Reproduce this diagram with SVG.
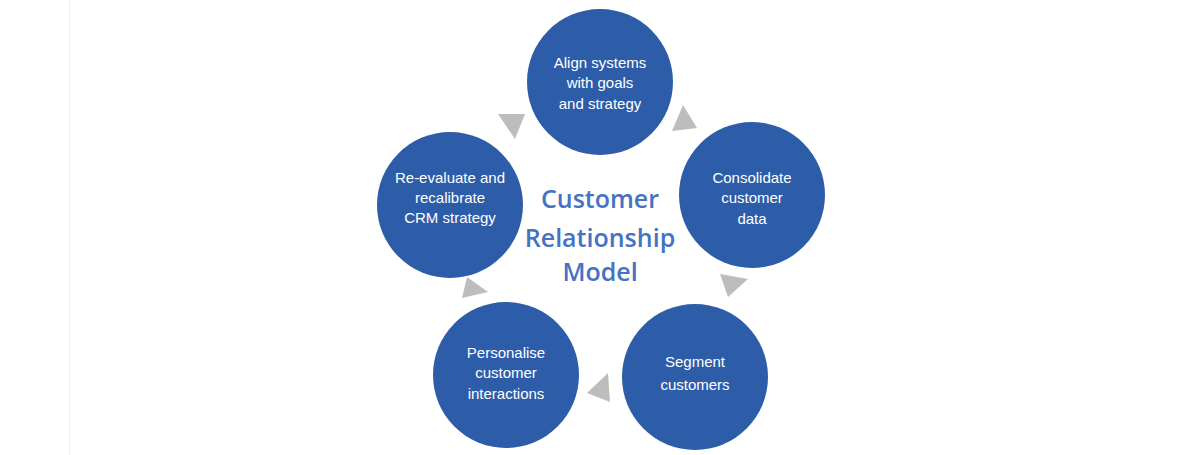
<svg xmlns="http://www.w3.org/2000/svg" width="1200" height="455" viewBox="0 0 1200 455">
<style>
.node circle{fill:#2D5DA9}
.node text{fill:#fff;font-family:"Liberation Sans",Arial,sans-serif;font-size:15px;text-anchor:middle}
.title{fill:#4472C4;font-family:"Open Sans","Liberation Sans",sans-serif;font-weight:600;font-size:25px;text-anchor:middle}
.arrow{fill:#BDBDBD}
</style>
<rect width="1200" height="455" fill="#fff"/>
<line x1="69.5" y1="0" x2="69.5" y2="455" stroke="#efefef" stroke-width="1"/>
<g id="connectors">
<polygon class="arrow" points="498,114 525,114 515,139"/>
<polygon class="arrow" points="683,105 697,128 672,131"/>
<polygon class="arrow" points="720,274 748,279 728,297"/>
<polygon class="arrow" points="608,373 610,402 587,393"/>
<polygon class="arrow" points="467,277 488,292 462,298"/>
</g>
<g id="node-align" class="node">
<circle cx="600" cy="82" r="73"/>
<text x="600" y="68">Align systems</text>
<text x="600" y="88">with goals</text>
<text x="600" y="109">and strategy</text>
</g>
<g id="node-consolidate" class="node">
<circle cx="752" cy="195" r="73"/>
<text x="752" y="183">Consolidate</text>
<text x="752" y="203">customer</text>
<text x="752" y="224">data</text>
</g>
<g id="node-segment" class="node">
<circle cx="695" cy="377" r="73"/>
<text x="695" y="367">Segment</text>
<text x="695" y="390">customers</text>
</g>
<g id="node-personalise" class="node">
<circle cx="506" cy="375" r="73"/>
<text x="506" y="358">Personalise</text>
<text x="506" y="378">customer</text>
<text x="506" y="399">interactions</text>
</g>
<g id="node-reevaluate" class="node">
<circle cx="450" cy="205" r="73"/>
<text x="450" y="183">Re-evaluate and</text>
<text x="450" y="203">recalibrate</text>
<text x="450" y="223">CRM strategy</text>
</g>
<g id="title">
<text class="title" x="600" y="208">Customer</text>
<text class="title" x="600" y="247">Relationship</text>
<text class="title" x="600" y="281">Model</text>
</g>
</svg>
